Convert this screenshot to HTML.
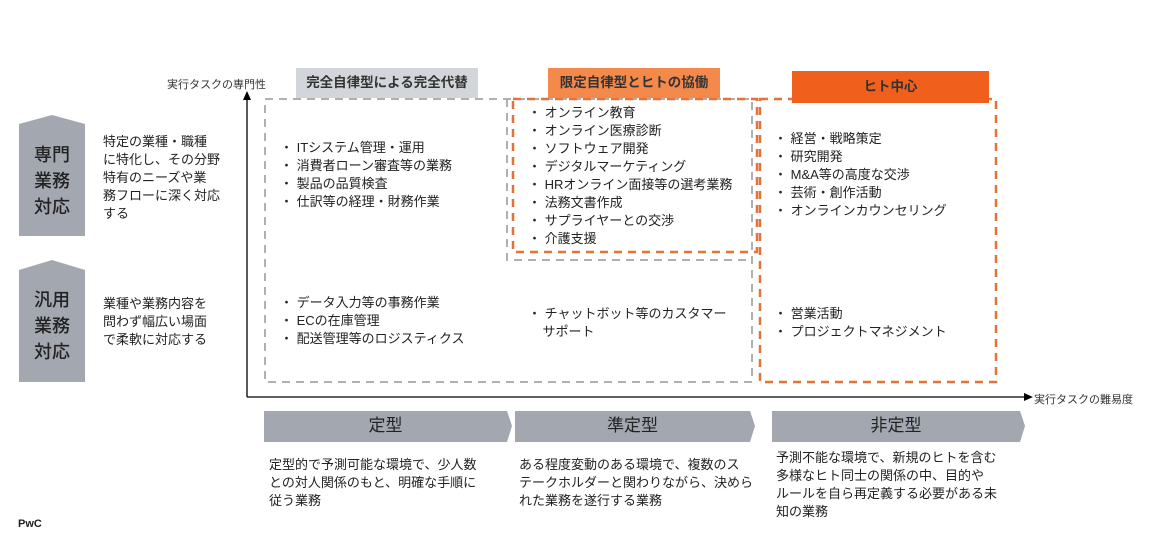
<!DOCTYPE html>
<html><head><meta charset="utf-8"><style>
body{margin:0;width:1158px;height:553px;background:#fff;position:relative;overflow:hidden;font-family:"Liberation Sans","Noto Sans CJK JP",sans-serif;color:#222}
.a{position:absolute;white-space:nowrap}
.t{font-size:13px;line-height:18px}
.h{font-weight:bold;font-size:13.5px;text-align:center;line-height:30px;color:#333}
.big{font-size:18px;line-height:26px;text-align:center;color:#222;font-weight:500}
.cv{font-size:17px;line-height:24px;text-align:center}
</style></head><body>
<svg class="a" style="left:0;top:0" width="1158" height="553">
<polygon points="19,124 52,115 85,124 85,236 19,236" fill="#a3a7b0"/>
<polygon points="19,270 52,260 85,270 85,382 19,382" fill="#a3a7b0"/>
<line x1="247" y1="96" x2="247" y2="397" stroke="#000" stroke-width="1.3"/>
<polygon points="243,100 247,91 251,100" fill="#000"/>
<line x1="247" y1="397" x2="1026" y2="397" stroke="#000" stroke-width="1.3"/>
<polygon points="1024,393 1033,397 1024,401" fill="#000"/>
<g fill="none" stroke="#b0b0b0" stroke-width="2" stroke-dasharray="8,6">
<path d="M265,99 H752 V382 H265 Z"/>
<path d="M507,99 V260 H752"/>
</g>
<g fill="none" stroke="#e0743a" stroke-width="2.5" stroke-dasharray="8,6">
<rect x="513" y="99" width="244" height="153"/>
<rect x="760" y="99" width="236" height="283"/>
</g>
<g fill="#a3a7b0">
<polygon points="264,411 507,411 512,426 507,442 264,442"/>
<polygon points="515,411 750,411 755,426 750,442 515,442"/>
<polygon points="772,411 1020,411 1025,426 1020,442 772,442"/>
</g>
</svg>
<div class="a big" style="left:19px;top:142px;width:66px">専門<br>業務<br>対応</div>
<div class="a big" style="left:19px;top:287px;width:66px">汎用<br>業務<br>対応</div>
<div class="a t" style="left:103px;top:133px">特定の業種・職種<br>に特化し、その分野<br>特有のニーズや業<br>務フローに深く対応<br>する</div>
<div class="a t" style="left:103px;top:295px">業種や業務内容を<br>問わず幅広い場面<br>で柔軟に対応する</div>
<div class="a" style="left:167px;top:76px;font-size:11px;color:#333">実行タスクの専門性</div>
<div class="a" style="left:1034px;top:391px;font-size:11px;color:#333">実行タスクの難易度</div>
<div class="a h" style="left:296px;top:68px;width:182px;height:30px;background:#d2d5da">完全自律型による完全代替</div>
<div class="a h" style="left:548px;top:68px;width:172px;height:30px;background:#f3894b">限定自律型とヒトの協働</div>
<div class="a h" style="left:792px;top:71px;width:197px;height:32px;line-height:32px;background:#f0601c">ヒト中心</div>
<div class="a t" style="left:280px;top:139px">・ ITシステム管理・運用<br>・ 消費者ローン審査等の業務<br>・ 製品の品質検査<br>・ 仕訳等の経理・財務作業</div>
<div class="a t" style="left:280px;top:294px">・ データ入力等の事務作業<br>・ ECの在庫管理<br>・ 配送管理等のロジスティクス</div>
<div class="a t" style="left:528px;top:104px">・ オンライン教育<br>・ オンライン医療診断<br>・ ソフトウェア開発<br>・ デジタルマーケティング<br>・ HRオンライン面接等の選考業務<br>・ 法務文書作成<br>・ サプライヤーとの交渉<br>・ 介護支援</div>
<div class="a t" style="left:528px;top:305px">・ チャットボット等のカスタマー<br>&nbsp;&nbsp;&nbsp;&nbsp;サポート</div>
<div class="a t" style="left:774px;top:130px">・ 経営・戦略策定<br>・ 研究開発<br>・ M&amp;A等の高度な交渉<br>・ 芸術・創作活動<br>・ オンラインカウンセリング</div>
<div class="a t" style="left:774px;top:305px">・ 営業活動<br>・ プロジェクトマネジメント</div>
<div class="a cv" style="left:264px;top:414px;width:243px">定型</div>
<div class="a cv" style="left:515px;top:414px;width:235px">準定型</div>
<div class="a cv" style="left:772px;top:414px;width:248px">非定型</div>
<div class="a t" style="left:269px;top:456px">定型的で予測可能な環境で、少人数<br>との対人関係のもと、明確な手順に<br>従う業務</div>
<div class="a t" style="left:519px;top:456px">ある程度変動のある環境で、複数のス<br>テークホルダーと関わりながら、決めら<br>れた業務を遂行する業務</div>
<div class="a t" style="left:776px;top:449px">予測不能な環境で、新規のヒトを含む<br>多様なヒト同士の関係の中、目的や<br>ルールを自ら再定義する必要がある未<br>知の業務</div>
<div class="a" style="left:18px;top:518px;font-size:11px;font-weight:bold">PwC</div>
</body></html>
